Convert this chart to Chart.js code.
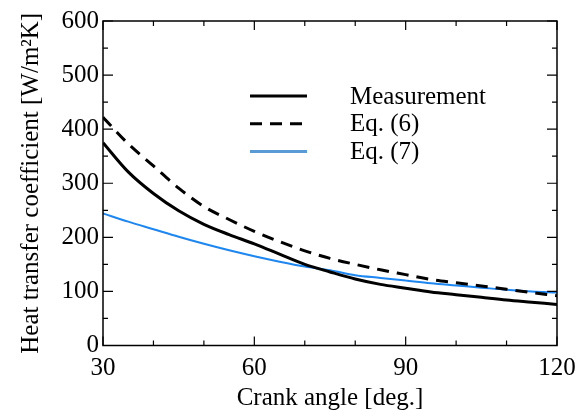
<!DOCTYPE html>
<html lang="en">
<head>
<meta charset="UTF-8">
<title>Heat transfer coefficient</title>
<script src="https://cdn.jsdelivr.net/npm/chart.js"></script>
<style>
    body {
        margin: 0;
        background: #fff;
    }
    .chart-box {
        width: 587px;
        height: 416px;
        position: relative;
    }
</style>
</head>
<body>
<div class="chart-box"><canvas id="htcChart"></canvas></div>
<script>
// values
const crankAngles = [30, 35, 40, 45, 50, 55, 60, 65, 70, 75, 80, 85, 90, 95, 100, 105, 110, 115, 120];
const measurement = [375, 321, 281, 249, 224, 205, 188, 169, 150, 136, 123, 113, 106, 99, 94, 89, 84, 80, 76];
const eq6 = [422, 373, 332, 291, 257, 233, 211, 192, 175, 161, 150, 140, 131, 122, 116, 110, 104, 98, 92];
const eq7 = [244, 229, 215, 201, 188, 176, 165, 155, 146, 139, 130, 125, 120, 115, 111, 107, 103, 100, 98];
const xLabelTicks = [30, 60, 90, 120];
const yLabelTicks = [0, 100, 200, 300, 400, 500, 600];

const serif = "'Liberation Serif', 'Times New Roman', serif";
const fontSize = 25;

function points(values) {
    return crankAngles.map((a, i) => ({ x: a, y: values[i] }));
}

// frame on four sides with inward ticks, plus the legend inside the plot
const framePlugin = {
    id: 'frame',
    afterDraw(chart) {
        const { ctx, chartArea: a, scales } = chart;
        ctx.save();
        ctx.strokeStyle = '#000';
        ctx.lineWidth = 1.5;
        ctx.strokeRect(a.left, a.top, a.right - a.left, a.bottom - a.top);

        ctx.lineWidth = 1.2;
        scales.x.ticks.forEach(t => {
            const px = scales.x.getPixelForValue(t.value);
            const len = xLabelTicks.includes(t.value) ? 9 : 5;
            ctx.beginPath();
            ctx.moveTo(px, a.bottom); ctx.lineTo(px, a.bottom - len);
            ctx.moveTo(px, a.top); ctx.lineTo(px, a.top + len);
            ctx.stroke();
        });
        scales.y.ticks.forEach(t => {
            const py = scales.y.getPixelForValue(t.value);
            const len = yLabelTicks.includes(t.value) ? 10 : 5;
            ctx.beginPath();
            ctx.moveTo(a.left, py); ctx.lineTo(a.left + len, py);
            ctx.moveTo(a.right, py); ctx.lineTo(a.right - len, py);
            ctx.stroke();
        });

        // legend
        ctx.font = fontSize + 'px ' + serif;
        ctx.textBaseline = 'middle';
        ctx.fillStyle = '#000';
        chart.data.datasets.forEach((ds, i) => {
            const y = 96 + i * 27.8;
            ctx.beginPath();
            ctx.strokeStyle = ds.legendColor || ds.borderColor;
            ctx.lineWidth = 3;
            ctx.setLineDash(ds.borderDash || []);
            ctx.moveTo(250, y);
            ctx.lineTo(307, y);
            ctx.stroke();
            ctx.setLineDash([]);
            ctx.fillText(ds.label, 350, y + 1);
        });
        ctx.restore();
    }
};

new Chart(document.getElementById('htcChart'), {
    type: 'line',
    data: {
        datasets: [
            {
                label: 'Measurement',
                data: points(measurement),
                borderColor: '#000',
                borderWidth: 3,
                pointRadius: 0,
                cubicInterpolationMode: 'monotone'
            },
            {
                label: 'Eq. (6)',
                data: points(eq6),
                borderColor: '#000',
                borderWidth: 3,
                borderDash: [12, 8],
                pointRadius: 0,
                cubicInterpolationMode: 'monotone'
            },
            {
                label: 'Eq. (7)',
                data: points(eq7),
                borderColor: '#1c86f2',
                legendColor: '#5b9bd5',
                borderWidth: 2,
                pointRadius: 0,
                cubicInterpolationMode: 'monotone'
            }
        ]
    },
    options: {
        responsive: true,
        maintainAspectRatio: false,
        animation: false,
        devicePixelRatio: 1,
        layout: { padding: { top: 21, right: 30, left: 0, bottom: 0 } },
        plugins: {
            legend: { display: false },
            tooltip: { enabled: false }
        },
        scales: {
            x: {
                type: 'linear',
                min: 30,
                max: 120,
                grid: { display: false, drawTicks: false },
                border: { display: false },
                ticks: {
                    stepSize: 10,
                    padding: 8,
                    color: '#000',
                    font: { family: serif, size: fontSize },
                    maxRotation: 0,
                    autoSkip: false,
                    callback: v => xLabelTicks.includes(v) ? String(v) : ''
                },
                title: {
                    display: true,
                    text: 'Crank angle [deg.]',
                    color: '#000',
                    font: { family: serif, size: fontSize },
                    padding: { top: 0, bottom: 3 }
                },
                afterFit: s => { s.height = 70.5; }
            },
            y: {
                min: 0,
                max: 600,
                grid: { display: false, drawTicks: false },
                border: { display: false },
                ticks: {
                    stepSize: 50,
                    padding: 4,
                    color: '#000',
                    font: { family: serif, size: fontSize },
                    autoSkip: false,
                    callback: v => yLabelTicks.includes(v) ? String(v) : ''
                },
                title: {
                    display: true,
                    text: 'Heat transfer coefficient [W/m²K]',
                    color: '#000',
                    font: { family: serif, size: fontSize },
                    padding: { top: 16, bottom: 0 }
                },
                afterFit: s => { s.width = 103; }
            }
        }
    },
    plugins: [framePlugin]
});
</script>
</body>
</html>
